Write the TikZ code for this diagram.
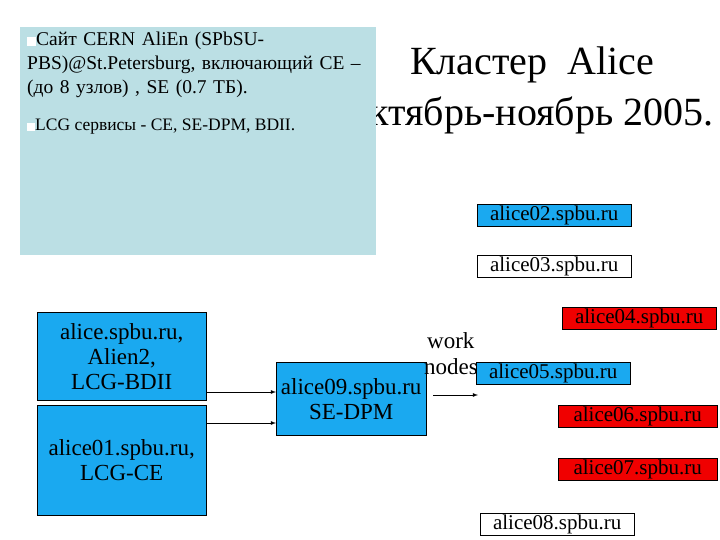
\documentclass[tikz,border=0pt]{standalone}
\usepackage{fontspec}
\setmainfont{Liberation Serif}
\definecolor{panel}{HTML}{BBDFE4}
\definecolor{sky}{HTML}{1AA9F0}
\definecolor{rd}{HTML}{F00000}
\begin{document}
\begin{tikzpicture}[x=1pt,y=-1pt,
  big/.style={draw=black,fill=sky,inner sep=0,align=center,font=\fontsize{23}{25}\selectfont},
  host/.style={draw=black,inner sep=0pt,minimum width=154,minimum height=22,font=\fontsize{21}{21}\selectfont},
  arr/.style={-latex,thick}]
\useasboundingbox (0,0) rectangle (720,540);
\fill[white] (0,0) rectangle (720,540);
\node[font=\fontsize{40}{42}\selectfont,anchor=center] (t1) at (532,65) {Кластер\ \ Alice};
\node[font=\fontsize{40}{42}\selectfont,anchor=east] (t2) at (717,115) {Октябрь-ноябрь 2005.};
\node[fill=panel,minimum width=356,minimum height=228,anchor=north west,inner sep=0] (panel) at (20,27) {};
\node[anchor=north west,text width=345,align=left,inner sep=0,font=\fontsize{19.5}{24}\selectfont] (p1) at (27,32)
 {\textcolor{white}{\rule{9pt}{9pt}}Сайт CERN AliEn (SPbSU-\\PBS)@St.Petersburg, включающий CE –\\(до 8 узлов) , SE (0.7 ТБ).};
\node[anchor=north west,inner sep=0,font=\fontsize{17.5}{20}\selectfont] (p2) at (27,119)
 {\textcolor{white}{\rule{8pt}{8pt}}LCG сервисы - CE, SE-DPM, BDII.};
\node[big,minimum width=169,minimum height=88,anchor=north west] (a) at (37,312) {alice.spbu.ru,\\Alien2,\\LCG-BDII};
\node[big,minimum width=169,minimum height=110,anchor=north west] (a1) at (37,405) {alice01.spbu.ru,\\LCG-CE};
\node[big,minimum width=150,minimum height=73,anchor=north west] (a9) at (276,362) {alice09.spbu.ru\\SE-DPM};
\draw[arr] (206,392) -- (a9.west|-0,392);
\draw[arr] (206,423) -- (a9.west|-0,423);
\node[font=\fontsize{23}{24}\selectfont,anchor=west,inner sep=0] (w) at (427,341) {work};
\node[font=\fontsize{23}{24}\selectfont,anchor=west,inner sep=0] (n) at (424,367) {nodes};
\coordinate (s) at (433,395); \coordinate (e) at (478,395);
\draw[arr] (s) -- (e);
\node[host,fill=sky,anchor=north west] (h2) at (477,204) {alice02.spbu.ru};
\node[host,fill=white,anchor=north west] (h3) at (477,255) {alice03.spbu.ru};
\node[host,fill=rd,anchor=north west] (h4) at (562,307) {alice04.spbu.ru};
\node[host,fill=sky,anchor=north west] (h5) at (476,362) {alice05.spbu.ru};
\node[host,fill=rd,anchor=north west,minimum width=159] (h6) at (558,405) {alice06.spbu.ru};
\node[host,fill=rd,anchor=north west,minimum width=159] (h7) at (558,458) {alice07.spbu.ru};
\node[host,fill=white,anchor=north west] (h8) at (480,513) {alice08.spbu.ru};
\end{tikzpicture}
\end{document}
